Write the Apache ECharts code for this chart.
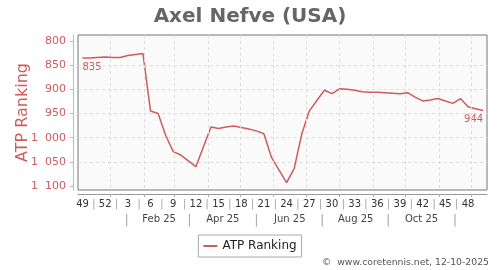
<!DOCTYPE html>
<html>
<head>
<meta charset="utf-8">
<script src="https://cdn.jsdelivr.net/npm/echarts@6/dist/echarts.min.js"></script>
<style>
html,body{margin:0;padding:0;background:#fff;}
#chart{width:500px;height:270px;}
</style>
</head>
<body>
<div id="chart"></div>
<script>
const weekDates = [
  '2024-12-06','2024-12-13','2024-12-20','2024-12-27',
  '2025-01-03','2025-01-10','2025-01-17','2025-01-24','2025-01-31',
  '2025-02-07','2025-02-14','2025-02-21','2025-02-28',
  '2025-03-07','2025-03-14','2025-03-21','2025-03-28',
  '2025-04-04','2025-04-11','2025-04-18','2025-04-25',
  '2025-05-02','2025-05-09','2025-05-16','2025-05-23','2025-05-30',
  '2025-06-06','2025-06-13','2025-06-20','2025-06-27',
  '2025-07-04','2025-07-11','2025-07-18','2025-07-25',
  '2025-08-01','2025-08-08','2025-08-15','2025-08-22','2025-08-29',
  '2025-09-05','2025-09-12','2025-09-19','2025-09-26',
  '2025-10-03','2025-10-10','2025-10-17','2025-10-24','2025-10-31',
  '2025-11-07','2025-11-14','2025-11-21','2025-11-28',
  '2025-12-05','2025-12-12'
];
const rankings = [
  835, 835, 834, 833,
  834, 834, 830, 828, 826,
  945, 950, 995, 1029,
  1036, 1048, 1060, 1019,
  978, 981, 978, 976,
  979, 982, 986, 992, 1041,
  1067, 1093, 1064, 993,
  945, 923, 902, 909,
  899, 900, 902, 905, 906,
  906, 907, 908, 909,
  907, 916, 924, 922, 919,
  924, 929, 919, 936,
  940, 944
];
const weekLabels = ['49','52','3','6','9','12','15','18','21','24','27','30','33','36','39','42','45','48'];
const monthLabels = ['Feb 25','Apr 25','Jun 25','Aug 25','Oct 25'];
const monthLabelDates = ['2025-02-15','2025-04-15','2025-06-16','2025-08-16','2025-10-16'];
const monthSepDates = ['2025-01-16','2025-03-15','2025-05-16','2025-07-16','2025-09-15','2025-11-16'];
const monthStarts = ['2025-01-01','2025-02-01','2025-03-01','2025-04-01','2025-05-01','2025-06-01',
  '2025-07-01','2025-08-01','2025-09-01','2025-10-01','2025-11-01','2025-12-01'];
const yTicks = [800, 850, 900, 950, 1000, 1050, 1100];
const titleText = 'Axel Nefve (USA)';
const seriesName = 'ATP Ranking';
const creditText = '\u00A9  www.coretennis.net, 12-10-2025';

const DAY = 86400000;
function t(s) { const p = s.split('-').map(Number); return Date.UTC(p[0], p[1]-1, p[2]); }

const FONT = 'DejaVu Sans';
const RED = '#cd5c5c';

const weekLabelMap = new Map();
const weekLabelVals = [];
weekLabels.forEach((lab, i) => {
  const v = t(weekDates[i*3]);
  weekLabelMap.set(v, lab);
  weekLabelVals.push(v);
  if (i < weekLabels.length - 1) {
    const s = v + 10.5*DAY;
    weekLabelMap.set(s, '|');
    weekLabelVals.push(s);
  }
});
const monthLabelMap = new Map();
const monthVals = [];
monthLabels.forEach((lab, i) => { const v = t(monthLabelDates[i]); monthLabelMap.set(v, lab); monthVals.push(v); });
monthSepDates.forEach(d => { const v = t(d); monthLabelMap.set(v, '|'); monthVals.push(v); });
function lookup(map, v) {
  for (const [k, s] of map) { if (Math.abs(k - v) < 3600000) return s; }
  return '';
}

const xMin = t('2024-12-01') + 20*3600000;
const xMax = t('2025-12-15') + 14*3600000;

const lastIdx = rankings.length - 1;
const seriesData = rankings.map((v, i) => {
  const item = { value: [t(weekDates[i]), v] };
  if (i === 0 || i === lastIdx) {
    item.label = {
      show: true, position: 'bottom', distance: 4,
      align: i === 0 ? 'left' : 'right',
      color: RED, fontSize: 10, fontFamily: FONT,
      formatter: String(v)
    };
  }
  return item;
});

function fmtRank(v) {
  if (v >= 1000) { const r = Math.round(v) % 1000; return Math.floor(v/1000) + '  ' + String(r).padStart(3, '0'); }
  return String(Math.round(v));
}

const chart = echarts.init(document.getElementById('chart'), null, { renderer: 'canvas' });
chart.setOption({
  animation: false,
  backgroundColor: '#ffffff',
  textStyle: { fontFamily: FONT },
  title: {
    text: titleText, left: 'center', top: 2,
    textStyle: { fontFamily: FONT, fontSize: 20, fontWeight: 'bold', color: '#666666' }
  },
  legend: {
    data: [{ name: seriesName, icon: 'rect' }], left: 'center', top: 235,
    padding: [5, 5], borderColor: '#aaaaaa', borderWidth: 1, borderRadius: 0,
    itemWidth: 14, itemHeight: 2, itemGap: 5,
    textStyle: { fontFamily: FONT, fontSize: 12, color: '#222222' }
  },
  grid: {
    left: 78, right: 13, top: 35, bottom: 80,
    show: true, backgroundColor: '#fafafa', borderColor: '#777777', borderWidth: 1,
    containLabel: false, outerBoundsMode: 'none'
  },
  xAxis: [
    {
      type: 'value', min: xMin, max: xMax, position: 'bottom', offset: 4,
      axisLine: { show: true, onZero: false, lineStyle: { color: '#999999', width: 1 } },
      axisTick: { show: true, length: 3, lineStyle: { color: '#aaaaaa' }, customValues: monthStarts.map(t) },
      splitLine: { show: false },
      axisLabel: {
        show: true, margin: 5, fontSize: 10, fontFamily: FONT, color: '#333333',
        customValues: weekLabelVals,
        formatter: function (v) { const s = lookup(weekLabelMap, v); return s === '|' ? '{s||}' : s; },
        rich: { s: { color: '#aaaaaa', fontSize: 11, fontFamily: FONT } }
      }
    },
    {
      type: 'value', min: xMin, max: xMax, position: 'bottom', offset: 18,
      axisLine: { show: false, onZero: false }, axisTick: { show: false }, splitLine: { show: false },
      axisLabel: {
        show: true, margin: 6, fontSize: 10, fontFamily: FONT, color: '#444444',
        customValues: monthVals,
        formatter: function (v) { const s = lookup(monthLabelMap, v); return s === '|' ? '{s||}' : s; },
        rich: { s: { color: '#aaaaaa', fontSize: 13, fontFamily: FONT } }
      }
    }
  ],
  yAxis: {
    type: 'value', inverse: true, min: 787.6, max: 1108.3, splitNumber: 6, offset: 5,
    name: seriesName, nameLocation: 'middle', nameGap: 42, nameRotate: 90, nameMoveOverlap: false,
    nameTextStyle: { color: RED, fontSize: 16, fontFamily: FONT },
    axisLine: { show: true, onZero: false, lineStyle: { color: '#e3a8a8', width: 1 } },
    axisTick: { show: true, length: 3, lineStyle: { color: '#e3a8a8' }, customValues: yTicks },
    splitLine: { show: true, showMinLine: false, showMaxLine: false, lineStyle: { color: '#dddddd', type: [3, 3], width: 1 } },
    axisLabel: {
      show: true, margin: 7, fontSize: 11, fontFamily: FONT, color: RED,
      customValues: yTicks, formatter: fmtRank
    }
  },
  series: [
    {
      name: '_grid', type: 'line', data: [], z: 1, silent: true,
      markLine: {
        silent: true, symbol: 'none', animation: false,
        label: { show: false },
        lineStyle: { color: '#dddddd', type: [3, 3], width: 1 },
        emphasis: { disabled: true },
        data: monthStarts.map(d => ({ xAxis: t(d) }))
      }
    },
    {
      name: seriesName, type: 'line', data: seriesData, z: 3,
      symbol: 'circle', symbolSize: 0, showSymbol: true,
      lineStyle: { color: RED, width: 1.5 }, itemStyle: { color: RED },
      emphasis: { disabled: true }
    }
  ],
  graphic: [{
    type: 'text', right: 11, bottom: 3,
    style: { text: creditText, fontSize: 9.3, fontFamily: FONT, fill: '#555555' }
  }]
});
</script>
</body>
</html>
